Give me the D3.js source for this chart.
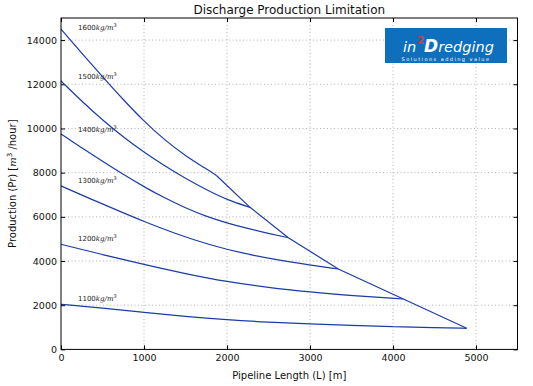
<!DOCTYPE html>
<html>
<head>
<meta charset="utf-8">
<script src="https://cdn.jsdelivr.net/npm/d3@7"></script>
<style>
body { margin: 0; background: #fff; }
text { font-family: "DejaVu Sans", sans-serif; }
</style>
</head>
<body>
<div id="chart"></div>
<script>
// values
var xTicks = [0, 1000, 2000, 3000, 4000, 5000];
var yTicks = [0, 2000, 4000, 6000, 8000, 10000, 12000, 14000];
var densities = ["1600", "1500", "1400", "1300", "1200", "1100"];

var curve1600 = [[0,14500],[250,13410],[500,12340],[750,11300],[1000,10320],[1250,9470],[1500,8760],[1750,8170],[1876,7860]];
var curve1500 = [[0,12150],[250,11230],[500,10380],[750,9610],[1000,8920],[1250,8300],[1500,7740],[1750,7230],[2000,6770],[2277,6430]];
var curve1400 = [[0,9750],[250,9120],[500,8510],[750,7920],[1000,7360],[1250,6850],[1500,6400],[1750,6020],[2000,5720],[2250,5470],[2500,5250],[2739,5054]];
var curve1300 = [[0,7400],[400,6740],[800,6100],[1000,5790],[1400,5210],[1800,4720],[2200,4340],[2600,4050],[3000,3819],[3341,3640]];
var curve1200 = [[0,4760],[500,4290],[1000,3840],[1500,3420],[2000,3060],[2500,2800],[3000,2600],[3500,2430],[4124,2281]];
var curve1100 = [[0,2040],[500,1870],[1000,1680],[1500,1490],[2000,1340],[2500,1230],[3000,1150],[3500,1085],[4000,1030],[4500,985],[4888,955]];
var limitLine = [[1876,7860],[2277,6430],[2739,5054],[3341,3640],[4124,2281],[4888,955]];

var labelX = 205;
var labelY = [14580, 12340, 9970, 7630, 5030, 2280];

var curves = [curve1600, curve1500, curve1400, curve1300, curve1200, curve1100];

var totalWidth = 533, totalHeight = 386;
var margin = {top: 18, right: 15.5, bottom: 36.6, left: 61};
var width = totalWidth - margin.left - margin.right,
    height = totalHeight - margin.top - margin.bottom;
var lineColor = "#1b3ca6";

var svg = d3.select("#chart").append("svg")
    .attr("width", totalWidth)
    .attr("height", totalHeight);
var g = svg.append("g")
    .attr("transform", "translate(" + margin.left + "," + margin.top + ")");

var x = d3.scaleLinear().domain([0, 5500]).range([0, width]);
var y = d3.scaleLinear().domain([0, 15000]).range([height, 0]);

// dotted grid
g.append("g").selectAll("line")
    .data(xTicks.slice(1))
    .enter().append("line")
    .attr("x1", function(d){ return x(d); })
    .attr("x2", function(d){ return x(d); })
    .attr("y1", 0).attr("y2", height)
    .attr("stroke", "#b0b0b0")
    .attr("stroke-dasharray", "1,2.5");
g.append("g").selectAll("line")
    .data(yTicks.slice(1))
    .enter().append("line")
    .attr("y1", function(d){ return y(d); })
    .attr("y2", function(d){ return y(d); })
    .attr("x1", 0).attr("x2", width)
    .attr("stroke", "#b0b0b0")
    .attr("stroke-dasharray", "1,2.5");

// axes, ticks pointing inward
var fmt = d3.format("d");
var xAxis = d3.axisBottom(x).tickValues(xTicks).tickFormat(fmt).tickSizeInner(-4).tickSizeOuter(0).tickPadding(5);
var yAxis = d3.axisLeft(y).tickValues(yTicks).tickFormat(fmt).tickSizeInner(-4).tickSizeOuter(0).tickPadding(4);
var xTop = d3.axisTop(x).tickValues(xTicks).tickSizeInner(-4).tickSizeOuter(0).tickFormat("");
var yRight = d3.axisRight(y).tickValues(yTicks).tickSizeInner(-4).tickSizeOuter(0).tickFormat("");

g.append("g").attr("transform", "translate(0," + height + ")").call(xAxis);
g.append("g").call(yAxis);
g.append("g").call(xTop);
g.append("g").attr("transform", "translate(" + width + ",0)").call(yRight);
g.selectAll(".domain").remove();
g.selectAll(".tick text").attr("font-size", "9.5px").attr("fill", "#111")
    .attr("font-family", "DejaVu Sans, sans-serif");

// curves
var line = d3.line()
    .x(function(d){ return x(d[0]); })
    .y(function(d){ return y(d[1]); })
    .curve(d3.curveBasis);

g.append("g").selectAll("path")
    .data(curves)
    .enter().append("path")
    .attr("d", line)
    .attr("fill", "none")
    .attr("stroke", lineColor)
    .attr("stroke-width", 1.2);

g.append("path")
    .attr("d", d3.line().x(function(d){ return x(d[0]); }).y(function(d){ return y(d[1]); })(limitLine))
    .attr("fill", "none")
    .attr("stroke", lineColor)
    .attr("stroke-width", 1.2);

// density labels
var labels = g.append("g").selectAll("text")
    .data(densities)
    .enter().append("text")
    .attr("x", x(labelX))
    .attr("y", function(d, i){ return y(labelY[i]); })
    .attr("dy", "0.35em")
    .attr("font-size", "7px")
    .attr("fill", "#222");
labels.append("tspan").text(function(d){ return d; });
labels.append("tspan").attr("font-style", "italic").attr("font-family", "DejaVu Serif, serif").text("kg/m");
labels.append("tspan").attr("font-size", "5px").attr("dy", "-3").text("3");

// frame
g.append("rect")
    .attr("width", width).attr("height", height)
    .attr("fill", "none").attr("stroke", "#000").attr("stroke-width", 1);

// logo box
var logo = svg.append("g").attr("transform", "translate(385,28)");
logo.append("rect").attr("width", 122).attr("height", 35).attr("fill", "#0e6fbd");
logo.append("text").attr("x", 18).attr("y", 24).attr("fill", "#fff")
    .attr("font-size", "14.5px").attr("font-style", "italic").text("in");
logo.append("text").attr("x", 32).attr("y", 15.5).attr("fill", "#e0303a")
    .attr("font-size", "10.5px").attr("font-weight", "bold").text("2");
var dt = logo.append("text").attr("x", 39).attr("y", 24).attr("fill", "#fff")
    .attr("font-size", "14.5px").attr("font-style", "italic");
dt.append("tspan").attr("font-size", "17px").attr("font-weight", "bold").text("D");
dt.append("tspan").text("redging");
logo.append("text").attr("x", 61).attr("y", 33).attr("text-anchor", "middle").attr("fill", "#fff")
    .attr("font-size", "5px").attr("letter-spacing", "1.45px")
    .text("Solutions adding value");

// titles
svg.append("text")
    .attr("x", margin.left + width / 2).attr("y", 14)
    .attr("text-anchor", "middle").attr("font-size", "12px").attr("fill", "#111")
    .text("Discharge Production Limitation");

svg.append("text")
    .attr("x", margin.left + width / 2).attr("y", 379)
    .attr("text-anchor", "middle").attr("font-size", "10px").attr("fill", "#111")
    .text("Pipeline Length (L) [m]");

var yl = svg.append("text")
    .attr("transform", "translate(16," + (margin.top + height / 2) + ") rotate(-90)")
    .attr("text-anchor", "middle").attr("font-size", "10px").attr("fill", "#111");
yl.append("tspan").text("Production (Pr) [");
yl.append("tspan").attr("font-style", "italic").attr("font-family", "DejaVu Serif, serif").text("m");
yl.append("tspan").attr("font-size", "7px").attr("dy", "-4").text("3");
yl.append("tspan").attr("dy", "4").text(" /hour]");
</script>
</body>
</html>
